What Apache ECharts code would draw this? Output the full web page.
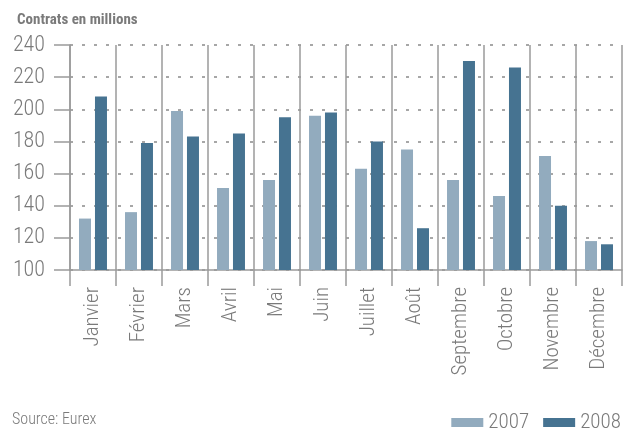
<html>
<head>
<meta charset="utf-8">
<script type="text/javascript" src="https://cdn.jsdelivr.net/npm/echarts@6/dist/echarts.min.js"></script>
<style type="text/css">
	body { margin: 0; background: #fff; }
</style>
<title>Contrats en millions</title>
</head>
<body>
	<div id="chart" style="width: 627px; height: 432px;"></div>

	<script type="text/javascript">
// months (x categories)
var months = ['Janvier', 'Février', 'Mars', 'Avril', 'Mai', 'Juin',
	'Juillet', 'Août', 'Septembre', 'Octobre', 'Novembre', 'Décembre'];
var values2007 = [132, 136, 199, 151, 156, 196, 163, 175, 156, 146, 171, 118];
var values2008 = [208, 179, 183, 185, 195, 198, 180, 126, 230, 226, 140, 116];
var seriesNames = ['2007', '2008'];

var font = '"Roboto Condensed", "DejaVu Sans Condensed", sans-serif';
var textGrey = '#7a7a7a';
var lineGrey = '#9a9a9a';

var option = {
	animation: false,
	textStyle: { fontFamily: font },
	title: [{
		text: 'Contrats en millions',
		left: 12, top: 8,
		textStyle: { fontFamily: font, fontSize: 15, fontWeight: 'bold', color: textGrey }
	}, {
		text: 'Source: Eurex',
		padding: 0,
		left: 12, top: 412,
		textStyle: { fontFamily: font, fontSize: 16, fontWeight: 300, color: textGrey }
	}],
	legend: {
		data: seriesNames,
		padding: 0,
		right: 6, top: 412,
		icon: 'rect',
		itemWidth: 32, itemHeight: 9,
		itemGap: 14,
		textStyle: { fontFamily: font, fontSize: 21, fontWeight: 300, color: textGrey }
	},
	grid: { left: 70, right: 5, top: 45, bottom: 162, containLabel: false },
	xAxis: {
		type: 'category',
		data: months,
		boundaryGap: true,
		axisLine: { show: true, lineStyle: { color: lineGrey, width: 1.5 } },
		axisTick: { show: true, length: 16, lineStyle: { color: lineGrey, width: 1.5 } },
		splitLine: { show: true, lineStyle: { color: lineGrey, width: 1.5 } },
		axisLabel: { rotate: 90, margin: 17, fontFamily: font, fontSize: 21, fontWeight: 300, color: textGrey, interval: 0 }
	},
	yAxis: {
		type: 'value',
		min: 100, max: 240, interval: 20,
		axisLine: { show: true, lineStyle: { color: lineGrey, width: 1.5 } },
		axisTick: { show: true, length: 16, lineStyle: { color: lineGrey, width: 1.5 } },
		splitLine: { show: true, lineStyle: { color: '#8a8a8a', width: 1.5, type: [3, 9] } },
		axisLabel: { margin: 25, fontFamily: font, fontSize: 22, fontWeight: 300, color: textGrey }
	},
	series: [{
		name: seriesNames[0],
		type: 'bar',
		data: values2007,
		barWidth: 12,
		barGap: '33%',
		itemStyle: { color: '#92abbe' }
	}, {
		name: seriesNames[1],
		type: 'bar',
		data: values2008,
		barWidth: 12,
		itemStyle: { color: '#467391' }
	}]
};

var myChart = echarts.init(document.getElementById('chart'));
myChart.setOption(option);
</script>
</body>
</html>
